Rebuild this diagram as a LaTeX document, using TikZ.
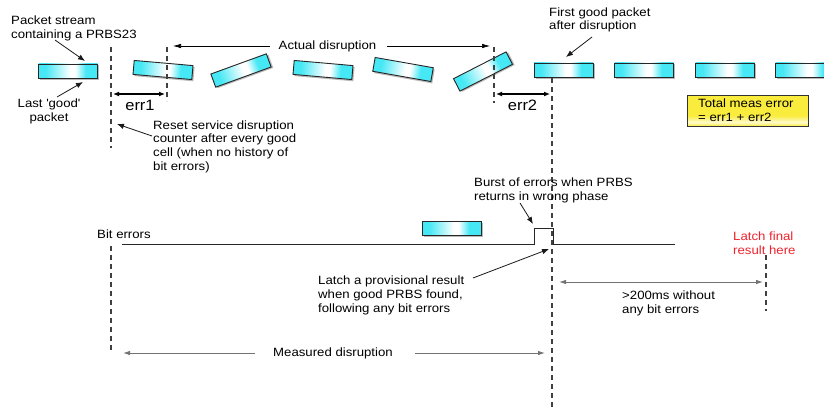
\documentclass[tikz,border=0pt]{standalone}
\usepackage{fontspec}
\setmainfont[FakeStretch=1.1]{Liberation Sans}
\usetikzlibrary{arrows.meta}
\definecolor{pcyan}{RGB}{70,232,245}
\definecolor{byel}{RGB}{250,236,60}
\definecolor{lred}{RGB}{240,35,45}
\pgfdeclarehorizontalshading{pkt}{100bp}{color(0bp)=(pcyan); color(25bp)=(pcyan); color(31bp)=(pcyan); color(52bp)=(white); color(56bp)=(white); color(65bp)=(pcyan); color(75bp)=(pcyan); color(100bp)=(pcyan)}
\pgfdeclareverticalshading{ybox}{100bp}{color(0bp)=(byel); color(25bp)=(byel); color(31bp)=(byel!25!white); color(42bp)=(byel); color(75bp)=(byel); color(100bp)=(byel)}
\newcommand{\pkt}[3]{%
 \begin{scope}[transform canvas={shift={(#1,#2)},rotate=#3}]
  \fill[black!50,opacity=.55] (-28,-5.5) rectangle (31.2,8.6);
  \shade[shading=pkt,draw=black!85,line width=.9pt] (-29.5,-7) rectangle (29.5,7);
 \end{scope}}
\tikzset{
 txt/.style={font=\fontsize{12}{13.6}\selectfont, align=left, inner sep=0pt},
 big/.style={font=\fontsize{15}{17}\selectfont, inner sep=0pt},
 arr/.style={-{Latex[length=7pt,width=5.5pt]}, line width=0.8pt, black!90},
 thinarr/.style={-{Latex[length=8pt,width=4.5pt]}, line width=0.7pt},
 errarr/.style={{Latex[length=6pt,width=5pt]}-{Latex[length=6pt,width=5pt]}, line width=1.4pt},
 grayarr/.style={-{Latex[length=7pt,width=4.5pt]}, line width=0.9pt, black!55},
 dline/.style={draw=black!75, line width=1.1pt, dash pattern=on 5pt off 4pt},
}
\begin{document}
\begin{tikzpicture}[x=1pt,y=-1pt]
\useasboundingbox[fill=white] (0,0) rectangle (824,412);
% packets
\pkt{68}{71}{0}
\pkt{163}{70}{-5}
\pkt{241}{70.5}{20}
\pkt{323}{70}{-5}
\pkt{403}{69.5}{-10}
\pkt{483}{71.5}{27}
\pkt{563.5}{70}{0}
\pkt{644}{70}{0}
\pkt{725}{70}{0}
\pkt{805}{70}{0}
\pkt{451.5}{228.5}{0}
% dashed lines
\coordinate (a1) at (111,47); \coordinate (a2) at (111,148);
\coordinate (a3) at (111,246); \coordinate (a4) at (111,353);
\coordinate (b1) at (167,47); \coordinate (b2) at (167,101);
\coordinate (c1) at (494,47); \coordinate (c2) at (494,103);
\coordinate (d1) at (552,78); \coordinate (d2) at (552,410);
\coordinate (e1) at (766,255); \coordinate (e2) at (766,311);
\draw[dline] (a1) -- (a2);
\draw[dline] (a3) -- (a4);
\draw[dline] (b1) -- (b2);
\draw[dline] (c1) -- (c2);
\draw[dline] (d1) -- (d2);
\draw[dline] (e1) -- (e2);
% texts (base anchor = baseline of last line)
\node[txt, anchor=base west] (stream) at (11,38) {Packet stream\\containing a PRBS23};
\node[txt, anchor=base, align=center] (last) at (49,121) {Last \textquotesingle good\textquotesingle\\packet};
\node[txt, anchor=base west] (reset) at (153,170) {Reset service disruption\\counter after every good\\cell (when no history of\\bit errors)};
\node[txt, anchor=base] (actual) at (327.5,49.5) {Actual disruption};
\node[big, anchor=base] (err1) at (140,110) {err1};
\node[big, anchor=base] (err2) at (522.5,110) {err2};
\node[txt, anchor=base west] (first) at (549,30) {First good packet\\after disruption};
\shade[shading=ybox, draw=black!80, line width=.9pt] (687,95) rectangle (808,126);
\node[txt, anchor=base west] (total) at (698,121.5) {Total meas error\\= err1 + err2};
\node[txt, anchor=base west] (biterr) at (97,238) {Bit errors};
\node[txt, anchor=base west] (burst) at (474,200.5) {Burst of errors when PRBS\\returns in wrong phase};
\node[txt, anchor=base west] (prov) at (318,312) {Latch a provisional result\\when good PRBS found,\\following any bit errors};
\node[txt, anchor=base west, text=lred] (final) at (733,254.5) {Latch final\\result here};
\node[txt, anchor=base west] (ms) at (622,313) {>200ms without\\any bit errors};
\node[txt, anchor=base] (meas) at (333,356) {Measured disruption};
% bit error trace
\coordinate (t1) at (122,244); \coordinate (t2) at (534,244);
\coordinate (t3) at (534,228); \coordinate (t4) at (553,228);
\coordinate (t5) at (553,244); \coordinate (t6) at (675,244);
\draw[line width=.9pt, black!85] (t1) -- (t2) -- (t3) -- (t4) -- (t5) -- (t6);
% arrows
\coordinate (s1) at (55,40); \coordinate (s2) at (85,61);
\draw[arr] (s1) -- (s2);
\coordinate (l1) at (57,97); \coordinate (l2) at (83,82);
\draw[arr] (l1) -- (l2);
\coordinate (r1) at (152,136); \coordinate (r2) at (117,124);
\draw[arr] (r1) -- (r2);
\coordinate (ad1) at (270,46); \coordinate (ad2) at (173,46);
\coordinate (ad3) at (387,46); \coordinate (ad4) at (490,46);
\draw[thinarr] (ad1) -- (ad2);
\draw[thinarr] (ad3) -- (ad4);
\coordinate (e1a) at (113,94); \coordinate (e1b) at (165,94);
\draw[errarr] (e1a) -- (e1b);
\coordinate (e2a) at (496,94); \coordinate (e2b) at (550,94);
\draw[errarr] (e2a) -- (e2b);
\coordinate (f1) at (592,37); \coordinate (f2) at (566,57);
\draw[arr] (f1) -- (f2);
\coordinate (bu1) at (520,203); \coordinate (bu2) at (533,224);
\draw[arr] (bu1) -- (bu2);
\coordinate (pv1) at (473,278); \coordinate (pv2) at (549,249);
\draw[arr] (pv1) -- (pv2);
\coordinate (m1) at (559,282); \coordinate (m2) at (763,282);
\draw[grayarr, {Latex[length=7pt,width=4.5pt]}-{Latex[length=7pt,width=4.5pt]}] (m1) -- (m2);
\coordinate (md1) at (255,353); \coordinate (md2) at (123,353);
\coordinate (md3) at (415,353); \coordinate (md4) at (545,353);
\draw[grayarr] (md1) -- (md2);
\draw[grayarr] (md3) -- (md4);
\end{tikzpicture}
\end{document}
